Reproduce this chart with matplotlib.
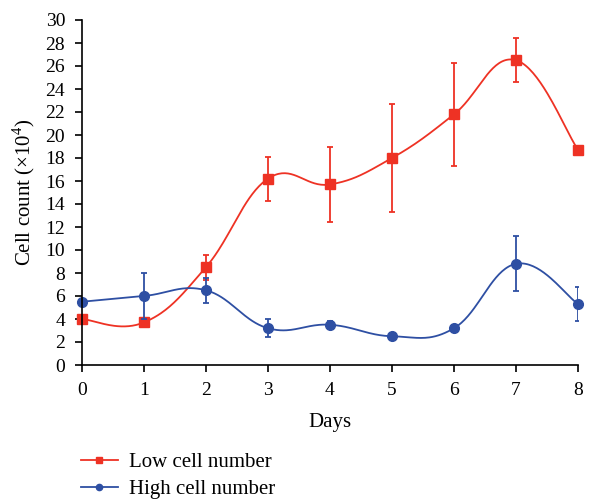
import numpy as np
import matplotlib
matplotlib.use('Agg')
import matplotlib.pyplot as plt

plt.rcParams['font.family'] = ['Liberation Serif', 'DejaVu Serif']
plt.rcParams['mathtext.fontset'] = 'custom'
plt.rcParams['mathtext.rm'] = 'Liberation Serif'

days = [0, 1, 2, 3, 4, 5, 6, 7, 8]
low_mean = [4.0, 3.7, 8.5, 16.2, 15.7, 18.0, 21.8, 26.5, 18.7]
low_err = [0, 0, 1.1, 1.9, 3.3, 4.7, 4.5, 1.9, 0]
high_mean = [5.5, 6.0, 6.5, 3.2, 3.5, 2.5, 3.2, 8.8, 5.3]
high_err = [0, 2.0, 1.1, 0.8, 0.3, 0.3, 0.3, 2.4, 1.5]

red = '#ee3224'
blue = '#2e4fa3'


def smooth(x, y, n=40, k=5.0):
    # excel-like bezier smoothing through the points
    x = np.asarray(x, float)
    y = np.asarray(y, float)
    xs, ys = [], []
    for i in range(len(x) - 1):
        p0 = np.array([x[max(i - 1, 0)], y[max(i - 1, 0)]])
        p1 = np.array([x[i], y[i]])
        p2 = np.array([x[i + 1], y[i + 1]])
        p3 = np.array([x[min(i + 2, len(x) - 1)], y[min(i + 2, len(x) - 1)]])
        c1 = p1 + (p2 - p0) / k
        c2 = p2 - (p3 - p1) / k
        t = np.linspace(0, 1, n)[:, None]
        pts = ((1 - t) ** 3) * p1 + 3 * ((1 - t) ** 2) * t * c1 + 3 * (1 - t) * t ** 2 * c2 + t ** 3 * p2
        xs.extend(pts[:, 0])
        ys.extend(pts[:, 1])
    return xs, ys


fig = plt.figure(figsize=(6.06, 5.0), dpi=100)
ax = fig.add_axes([0.135, 0.27, 0.819, 0.69])

for mean, err, c, mk, lab in [(low_mean, low_err, red, 's', 'Low cell number'),
                              (high_mean, high_err, blue, 'o', 'High cell number')]:
    sx, sy = smooth(days, mean)
    ax.plot(sx, sy, color=c, lw=1.3)
    ax.errorbar(days, mean, yerr=err, fmt='none', ecolor=c, elinewidth=1.3, capsize=2, capthick=1.3)
    ax.plot(days, mean, mk, color=c, ms=7, clip_on=False)
    ax.plot([], [], '-', marker=mk, color=c, lw=1.3, ms=5 if mk == 's' else 4.5, label=lab)

ax.set_xlim(0, 8)
ax.set_ylim(0, 30)
ax.set_xticks(range(0, 9))
ax.set_yticks(range(0, 31, 2))
ax.spines['top'].set_visible(False)
ax.spines['right'].set_visible(False)
ax.tick_params(direction='out', length=5, width=1.2, labelsize=14, pad=7)
for s in ['left', 'bottom']:
    ax.spines[s].set_linewidth(1.2)
ax.set_xlabel('Days', fontsize=15, labelpad=10)
ax.set_ylabel('Cell count ($\\times$10$^4$)', fontsize=15, labelpad=6)

ax.legend(loc='upper left', bbox_to_anchor=(-0.04, -0.2), frameon=False, fontsize=15,
          handlelength=1.8, handletextpad=0.5, labelspacing=0.35)

fig.savefig('out.png', dpi=100)
